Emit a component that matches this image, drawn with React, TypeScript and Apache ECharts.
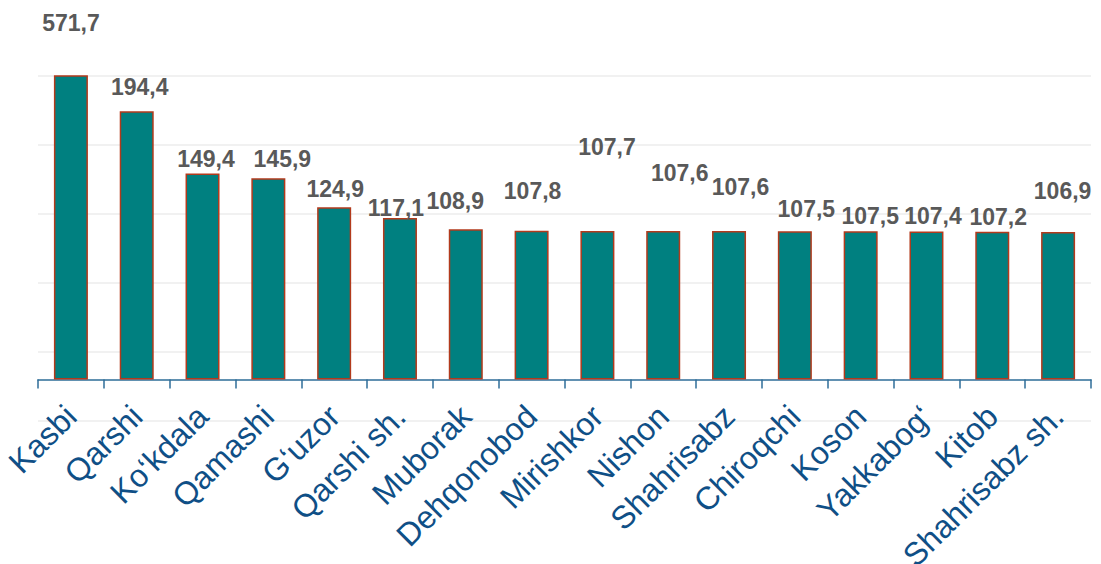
import React, { useEffect, useRef } from "react";
import * as echarts from "echarts";

const categories = [
  "Kasbi", "Qarshi", "Ko‘kdala", "Qamashi", "G‘uzor", "Qarshi sh.", "Muborak",
  "Dehqonobod", "Mirishkor", "Nishon", "Shahrisabz", "Chiroqchi", "Koson",
  "Yakkabog‘", "Kitob", "Shahrisabz sh.",
];
const values = [
  571.7, 194.4, 149.4, 145.9, 124.9, 117.1, 108.9, 107.8, 107.7, 107.6, 107.6,
  107.5, 107.5, 107.4, 107.2, 106.9,
];
// manual label nudges (px) as placed in the original chart
const labelOffsets = [
  [0, -36], [3, -7.5], [3.5, 2], [14, -3], [1, -1.5], [-4, 6], [-10.5, -12],
  [1, -23.5], [9.5, -67], [16.5, -41.5], [11.5, -27.5], [11.5, -5.5],
  [9.5, 1], [6.5, 1], [6, 2], [4.5, -25],
];
const yMin = -30;
const yMax = 220;
const yStep = 50;

export default function App() {
  const ref = useRef<HTMLDivElement>(null);
  useEffect(() => {
    if (!ref.current) return;
    const chart = echarts.init(ref.current, undefined, { renderer: "svg" });
    const font = "'Liberation Sans', Arial, sans-serif";
    chart.setOption({
      animation: false,
      grid: {
        left: 38, right: 10, top: 76, bottom: 143,
        containLabel: false, outerBoundsMode: "none",
      },
      xAxis: {
        type: "category",
        data: categories,
        axisLine: { onZero: true, lineStyle: { color: "#2e6d98", width: 1.5 } },
        axisTick: { show: true, length: 9, lineStyle: { color: "#2e6d98", width: 1.5 } },
        axisLabel: {
          rotate: 45,
          interval: 0,
          margin: -10,
          color: "#0f4f86",
          fontSize: 32,
          fontFamily: font,
        },
      },
      yAxis: {
        type: "value",
        min: yMin,
        max: yMax,
        interval: yStep,
        axisLabel: { show: false },
        axisLine: { show: false },
        axisTick: { show: false },
        splitLine: { lineStyle: { color: "#ededed", width: 1.5 } },
      },
      series: [
        {
          type: "bar",
          barWidth: 34,
          clip: true,
          itemStyle: { color: "#008080", borderColor: "#b23a1c", borderWidth: 1.5 },
          label: {
            show: true,
            position: "top",
            distance: 5,
            color: "#595959",
            fontWeight: "bold",
            fontSize: 23,
            fontFamily: font,
            formatter: (p: any) => p.value.toFixed(1).replace(".", ","),
          },
          data: values.map((v, i) => ({
            value: v,
            label: { offset: labelOffsets[i] },
          })),
        },
      ],
    });
    return () => chart.dispose();
  }, []);
  return (
    <div
      ref={ref}
      style={{ position: "fixed", left: 0, top: 0, width: 1101, height: 564, background: "#fff" }}
    />
  );
}
